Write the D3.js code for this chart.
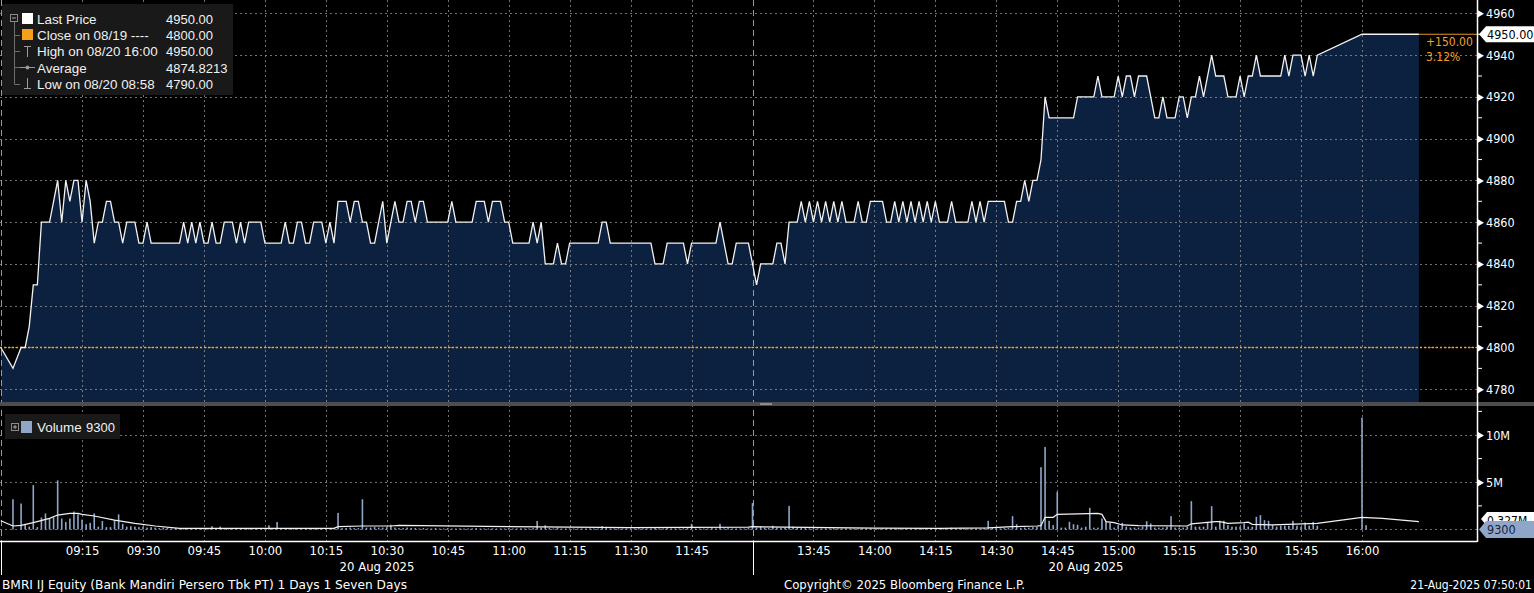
<!DOCTYPE html>
<html>
<head>
<meta charset="utf-8">
<script src="https://cdn.jsdelivr.net/npm/d3@7"></script>
<style>
  body { margin: 0; background: #000; overflow: hidden; }
  svg { display: block; }
  text { font-family: "DejaVu Sans Condensed", "DejaVu Sans", sans-serif; font-stretch: condensed; }
  .wide { font-family: "DejaVu Sans", sans-serif; font-stretch: normal; }
  .leg { font-family: "Liberation Sans", Arial, sans-serif; font-stretch: normal; }
</style>
</head>
<body>
<div id="myPlot"></div>
<script>
// price per minute, null = no print
const amStart = "08:55";
const amPrices = [
  4800, null, null, 4790, null,
  4800, 4800, 4810, 4830, 4830, 4860, 4860, 4860, 4870, 4880,
  4860, 4880, 4870, 4880, 4880, 4860, 4880, 4870, 4850, 4860,
  4860, 4870, 4870, 4860, 4860, 4850, 4860, 4860, 4860, 4850,
  4850, 4860, 4850, 4850, 4850, 4850, 4850, 4850, 4850, 4850,
  4860, 4850, 4860, 4850, 4860, 4850, 4850, 4860, 4850, 4850,
  4860, 4860, 4860, 4850, 4860, 4850, 4860, 4860, 4860, 4860,
  4850, 4850, 4850, 4850, 4850, 4860, 4850, 4850, 4860, 4860,
  4850, 4850, 4860, 4860, 4860, 4850, 4860, 4850, 4870, 4870,
  4870, 4860, 4870, 4870, 4860, 4860, 4850, 4850, 4860, 4870,
  4850, 4860, 4870, 4860, 4860, 4870, 4870, 4860, 4870, 4870,
  4860, 4860, 4860, 4860, 4860, 4860, 4870, 4860, 4860, 4860,
  4860, 4860, 4870, 4870, 4870, 4860, 4870, 4870, 4870, 4860,
  4860, 4850, 4850, 4850, 4850, 4850, 4860, 4850, 4860, 4840,
  4840, 4840, 4850, 4840, 4840, 4850, 4850, 4850, 4850, 4850,
  4850, 4850, 4850, 4860, 4860, 4850, 4850, 4850, 4850, 4850,
  4850, 4850, 4850, 4850, 4850, 4850, 4840, 4840, 4840, 4850,
  4850, 4850, 4850, 4850, 4840, 4850, 4850, 4850, 4850, 4850,
  4850, 4850, 4860, 4850, 4840, 4840, 4850, 4850, 4850, 4850
];
const pmStart = "13:30";
const pmPrices = [
  4840, 4830, 4840, 4840, 4840, 4840, 4850, 4850, 4840, 4860,
  4860, 4860, 4870, 4860, 4870, 4860, 4870, 4860, 4870, 4860,
  4870, 4860, 4870, 4860, 4860, 4860, 4870, 4860, 4860, 4870,
  4870, 4870, 4870, 4860, 4860, 4870, 4860, 4870, 4860, 4870,
  4860, 4870, 4860, 4870, 4860, 4870, 4860, 4860, 4860, 4870,
  4860, 4860, 4860, 4860, 4870, 4860, 4870, 4860, 4870, 4870,
  4870, 4870, 4870, 4860, 4860, 4870, 4870, 4880, 4870, 4880,
  4880, 4890, 4920, 4910, 4910, 4910, 4910, 4910, 4910, 4910,
  4920, 4920, 4920, 4920, 4920, 4930, 4920, 4920, 4920, 4920,
  4930, 4920, 4930, 4930, 4920, 4930, 4930, 4930, 4920, 4910,
  4910, 4920, 4910, 4910, 4910, 4920, 4920, 4910, 4920, 4920,
  4930, 4920, 4930, 4940, 4930, 4930, 4930, 4920, 4920, 4920,
  4930, 4920, 4930, 4930, 4940, 4930, 4930, 4930, 4930, 4930,
  4930, 4940, 4930, 4940, 4940, 4940, 4930, 4940, 4930, 4940,
  null, null, null, null, null, null, null, null, null, null,
  4950, null, null, null, null, null, null, null, null, null,
  null, null, null, null, 4950
];

// volume per minute, millions of shares
const amVolumes = [
  null, null, null, 3.2, null,
  2.75, 0.55, 0.3, 4.7, 0.25, 1.27, 1.7, 1.16, 1.3, 5.2,
  1.16, 0.8, 1.16, 1.9, 1.6, 1.05, 0.56, 0.7, 1.7, 0.3,
  0.9, 0.25, 0.25, 1.0, 1.6, 0.6, 0.3, 0.35, 0.3, 0.25,
  0.3, 0.2, 0.25, 0.2, 0.15, 0.2, 0.15, 0.1, 0.15, 0.1,
  0.1, 0.08, 0.1, 0.1, 0.08, 0.1, 0.1, 0.35, 0.1, 0.3,
  0.1, 0.15, 0.1, 0.1, 0.15, 0.1, 0.1, 0.1, 0.15, 0.1,
  0.1, 0.45, 0.1, 0.8, 0.1, 0.1, 0.12, 0.1, 0.1, 0.12,
  0.1, 0.1, 0.12, 0.1, 0.1, 0.1, 0.12, 0.15, 1.76, 0.15,
  0.15, 0.2, 0.15, 0.15, 3.2, 0.2, 0.2, 0.25, 0.2, 0.2,
  0.25, 0.5, 0.2, 0.15, 0.15, 0.2, 0.15, 0.15, 0.1, 0.15,
  0.1, 0.1, 0.15, 0.1, 0.1, 0.15, 0.1, 0.1, 0.12, 0.1,
  0.1, 0.12, 0.15, 0.1, 0.1, 0.1, 0.12, 0.1, 0.1, 0.1,
  0.15, 0.1, 0.1, 0.12, 0.1, 0.1, 0.15, 0.9, 0.2, 0.45,
  0.15, 0.1, 0.2, 0.1, 0.1, 0.12, 0.1, 0.1, 0.1, 0.1,
  0.12, 0.1, 0.1, 0.35, 0.15, 0.1, 0.1, 0.1, 0.1, 0.1,
  0.1, 0.1, 0.12, 0.1, 0.1, 0.1, 0.15, 0.1, 0.1, 0.15,
  0.1, 0.1, 0.1, 0.12, 0.15, 0.6, 0.1, 0.1, 0.1, 0.1,
  0.15, 0.1, 0.6, 0.12, 0.15, 0.1, 0.1, 0.1, 0.1, 0.15
];
const pmVolumes = [
  2.8, 0.2, 0.3, 0.2, 0.15, 0.4, 0.2, 0.15, 0.2, 2.5,
  0.3, 0.2, 0.15, 0.15, 0.12, 0.15, 0.12, 0.1, 0.12, 0.1,
  0.12, 0.1, 0.1, 0.12, 0.1, 0.1, 0.1, 0.12, 0.1, 0.1,
  0.1, 0.1, 0.12, 0.1, 0.1, 0.1, 0.1, 0.1, 0.12, 0.1,
  0.1, 0.1, 0.12, 0.1, 0.1, 0.1, 0.1, 0.12, 0.1, 0.2,
  0.1, 0.1, 0.12, 0.1, 0.1, 0.12, 0.1, 0.15, 0.92, 0.15,
  0.15, 0.12, 0.15, 0.15, 1.41, 0.56, 0.15, 0.2, 0.2, 0.25,
  0.3, 6.6, 8.74, 0.92, 0.46, 3.98, 0.2, 0.2, 0.81, 0.56,
  0.5, 0.2, 0.3, 2.29, 0.2, 0.2, 1.16, 0.81, 0.7, 0.2,
  0.46, 0.7, 0.3, 0.2, 0.2, 0.2, 0.3, 0.88, 0.63, 0.2,
  0.2, 0.2, 0.3, 1.41, 0.2, 0.2, 0.2, 0.3, 3.0, 0.3,
  0.3, 0.3, 0.81, 2.47, 0.3, 0.92, 0.92, 0.46, 0.3, 0.3,
  0.3, 0.63, 0.3, 0.3, 1.34, 1.52, 0.99, 0.92, 0.46, 0.3,
  0.4, 0.4, 0.4, 0.92, 0.4, 0.3, 0.74, 0.4, 0.81, 0.4,
  null, null, null, null, null, null, null, null, null, null,
  11.84, 0.46, null, null, null, null, null, null, null, null,
  null, null, null, null, null
];

// volume moving average
const maTimes = ["08:55", "08:58", "09:00", "09:03", "09:07", "09:09", "09:12", "09:14", "09:15", "09:18",
  "09:23", "09:28", "09:33", "09:39", "10:17", "10:18", "10:24", "10:31", "10:33", "11:00", "11:30", "11:59",
  "13:30", "14:00", "14:16", "14:28", "14:34", "14:40", "14:41", "14:42", "14:44", "14:45", "14:55", "14:56",
  "14:57", "14:59", "15:01", "15:05", "15:17", "15:18", "15:24", "15:25", "15:27", "15:31", "15:32", "15:33",
  "15:38", "15:49", "16:00", "16:05", "16:14"];
const maValues = [0.93, 0.37, 0.44, 0.72, 1.18, 1.53, 1.71, 1.71, 1.6, 1.43,
  1.0, 0.65, 0.37, 0.12, 0.12, 0.3, 0.37, 0.37, 0.44, 0.3, 0.2, 0.25,
  0.3, 0.15, 0.12, 0.17, 0.3, 0.37, 0.4, 1.29, 1.29, 1.6, 1.71, 1.6,
  0.83, 0.72, 0.48, 0.41, 0.37, 0.6, 0.83, 0.83, 0.65, 0.72, 0.78, 0.55,
  0.48, 0.65, 1.29, 1.18, 0.83];

const priceTicks = [4780, 4800, 4820, 4840, 4860, 4880, 4900, 4920, 4940, 4960];
const priceMinor = [4790, 4810, 4830, 4850, 4870, 4890, 4910, 4930, 4950];
const volTicks = [5, 10];
const volTickLabels = ["5M", "10M"];
const volMinor = [2.5, 7.5, 12.5];
const timeTicks = ["09:15", "09:30", "09:45", "10:00", "10:15", "10:30", "10:45", "11:00", "11:15", "11:30", "11:45",
  "13:45", "14:00", "14:15", "14:30", "14:45", "15:00", "15:15", "15:30", "15:45", "16:00"];
const sessionStarts = ["08:55", "13:30"];
const prevClose = 4800;
const lastPrice = 4950;
const lastVolume = 0.0093;

const legendRows = ["Last Price", "Close on 08/19 ----", "High on 08/20 16:00", "Average", "Low on 08/20 08:58"];
const legendValues = ["4950.00", "4800.00", "4950.00", "4874.8213", "4790.00"];

window.onload = () => {
  const W = 1534, H = 593;
  const axisX = 1477;
  const priceBottom = 402;
  const volBottom = 541;

  const toMin = s => { const p = s.split(":"); return +p[0] * 60 + +p[1]; };
  // squeeze out the lunch break, 13:30 sits where 12:00 would be
  const trade = m => m >= 810 ? m - 90 : m;
  const series = (start, arr) => arr.map((v, i) => ({ t: trade(toMin(start) + i), v: v })).filter(d => d.v != null);

  const prices = series(amStart, amPrices).concat(series(pmStart, pmPrices));
  const vols = series(amStart, amVolumes).concat(series(pmStart, pmVolumes));
  const ma = maTimes.map((s, i) => ({ t: trade(toMin(s)), v: maValues[i] }));

  const svg = d3.select("#myPlot").append("svg").attr("width", W).attr("height", H);
  svg.append("rect").attr("width", W).attr("height", H).attr("fill", "#000");

  const x = d3.scaleLinear().domain([535.3, 898.3]).range([2, axisX]);
  const y = d3.scaleLinear().domain([4773.9, 4966.4]).range([priceBottom, 0]);
  const yv = d3.scaleLinear().domain([0, 10]).range([529.5, 435]);

  // Price area
  svg.append("path").datum(prices)
    .attr("d", d3.area().x(d => x(d.t)).y0(priceBottom).y1(d => y(d.v)))
    .attr("fill", "#0c2140");

  // Grid
  const grid = svg.append("g").attr("stroke", "#8f8f8f").attr("stroke-opacity", 0.8)
    .attr("stroke-dasharray", "2,3").attr("stroke-width", 1);
  grid.selectAll(".hp").data(priceTicks).enter().append("line")
    .attr("x1", 0).attr("x2", axisX).attr("y1", d => Math.round(y(d)) + 0.5).attr("y2", d => Math.round(y(d)) + 0.5);
  grid.selectAll(".hv").data(volTicks).enter().append("line")
    .attr("x1", 0).attr("x2", axisX).attr("y1", d => Math.round(yv(d)) + 0.5).attr("y2", d => Math.round(yv(d)) + 0.5);
  grid.append("line").attr("x1", 0).attr("x2", axisX)
    .attr("y1", Math.round(yv(lastVolume)) + 0.5).attr("y2", Math.round(yv(lastVolume)) + 0.5);
  grid.selectAll(".vt").data(timeTicks).enter().append("line")
    .attr("x1", d => Math.round(x(trade(toMin(d)))) + 0.5).attr("x2", d => Math.round(x(trade(toMin(d)))) + 0.5)
    .attr("y1", 0).attr("y2", volBottom);
  svg.append("g").selectAll("line").data(sessionStarts).enter().append("line")
    .attr("x1", d => Math.round(x(trade(toMin(d)))) + 0.5).attr("x2", d => Math.round(x(trade(toMin(d)))) + 0.5)
    .attr("y1", 0).attr("y2", volBottom)
    .attr("stroke", "#9a9a9a").attr("stroke-dasharray", "6,4");

  // Previous close
  svg.append("line").attr("x1", 0).attr("x2", axisX).attr("y1", y(prevClose)).attr("y2", y(prevClose))
    .attr("stroke", "#f7a11a").attr("stroke-width", 1.6).attr("stroke-dasharray", "2,2");

  // Price line
  svg.append("path").datum(prices)
    .attr("d", d3.line().x(d => x(d.t)).y(d => y(d.v)))
    .attr("fill", "none").attr("stroke", "#f2f2f2").attr("stroke-width", 1.3);
  const last = prices[prices.length - 1];
  svg.append("line").attr("x1", x(last.t)).attr("x2", axisX).attr("y1", y(lastPrice)).attr("y2", y(lastPrice))
    .attr("stroke", "#e8962a").attr("stroke-width", 1);
  svg.append("text").attr("x", 1426).attr("y", 46).attr("fill", "#f0a030").style("font-size", "12px").text("+150.00");
  svg.append("text").attr("x", 1426).attr("y", 61).attr("fill", "#f0a030").style("font-size", "12px").text("3.12%");

  // Panel separator
  svg.append("rect").attr("x", 0).attr("y", priceBottom).attr("width", W).attr("height", 4).attr("fill", "#4d4d4d");
  svg.append("rect").attr("x", 760).attr("y", 403).attr("width", 12).attr("height", 2).attr("fill", "#8a8a8a");

  // Volume bars
  svg.append("g").selectAll("rect").data(vols).enter().append("rect")
    .attr("x", d => x(d.t) - 0.8).attr("width", 1.6)
    .attr("y", d => Math.min(yv(d.v), yv(0) - 1))
    .attr("height", d => Math.max(yv(0) - yv(d.v), 1))
    .attr("fill", "#8ea6c9");

  // Volume average
  svg.append("path").datum(ma)
    .attr("d", d3.line().x(d => x(d.t)).y(d => yv(d.v)))
    .attr("fill", "none").attr("stroke", "#f2f2f2").attr("stroke-width", 1.2);

  // Right axis
  svg.append("line").attr("x1", axisX + 0.5).attr("x2", axisX + 0.5).attr("y1", 0).attr("y2", volBottom + 1)
    .attr("stroke", "#fff").attr("stroke-width", 1.5);

  const pAxis = svg.append("g").attr("transform", "translate(" + axisX + ",0)")
    .call(d3.axisRight(y).tickValues(priceTicks).tickSize(0).tickPadding(9).tickFormat(d3.format("d")));
  const vAxis = svg.append("g").attr("transform", "translate(" + axisX + ",0)")
    .call(d3.axisRight(yv).tickValues(volTicks).tickSize(0).tickPadding(9).tickFormat((d, i) => volTickLabels[i]));
  [pAxis, vAxis].forEach(a => {
    a.select(".domain").remove();
    a.selectAll(".tick").append("path").attr("d", "M1,-3.5L7,0L1,3.5Z").attr("fill", "#fff");
    a.selectAll("text").attr("fill", "#fff").style("font-size", "12.5px").style("font-family", null);
  });
  svg.append("g").selectAll("line").data(priceMinor.map(y).concat(volMinor.map(yv))).enter().append("line")
    .attr("x1", axisX).attr("x2", axisX + 5).attr("y1", d => d).attr("y2", d => d).attr("stroke", "#fff");

  // Last price tag
  const ty = y(lastPrice);
  svg.append("path").attr("d", "M" + (axisX + 2) + "," + ty + "L" + (axisX + 9) + "," + (ty - 8) + "L" + W + "," + (ty - 8) +
    "L" + W + "," + (ty + 8) + "L" + (axisX + 9) + "," + (ty + 8) + "Z").attr("fill", "#fff");
  svg.append("text").attr("x", axisX + 10).attr("y", ty + 4.5).attr("fill", "#000").style("font-size", "12.5px").text("4950.00");

  // Volume tags (average tag mostly hidden behind the last volume tag)
  svg.append("path").attr("d", "M" + (axisX + 4) + ",519L" + (axisX + 10) + ",512L" + W + ",512L" + W + ",526L" + (axisX + 10) + ",526Z")
    .attr("fill", "#fff");
  svg.append("text").attr("x", axisX + 10).attr("y", 525).attr("fill", "#000").style("font-size", "12px").text("0.327M");
  const vy = yv(lastVolume);
  svg.append("path").attr("d", "M" + (axisX + 2) + "," + vy + "L" + (axisX + 9) + "," + (vy - 8.5) + "L" + W + "," + (vy - 8.5) +
    "L" + W + "," + (vy + 8.5) + "L" + (axisX + 9) + "," + (vy + 8.5) + "Z").attr("fill", "#8fa6c8");
  svg.append("text").attr("x", axisX + 10).attr("y", vy + 4.5).attr("fill", "#15233a").style("font-size", "12.5px").text("9300");

  // X Axis
  svg.append("line").attr("x1", 0).attr("x2", axisX).attr("y1", volBottom + 0.5).attr("y2", volBottom + 0.5)
    .attr("stroke", "#fff").attr("stroke-width", 1.5);
  const xAxis = svg.append("g").attr("transform", "translate(0," + volBottom + ")")
    .call(d3.axisBottom(x).tickValues(timeTicks.map(s => trade(toMin(s)))).tickFormat((d, i) => timeTicks[i]).tickSize(0).tickPadding(5));
  xAxis.select(".domain").remove();
  xAxis.selectAll("text").attr("fill", "#fff").style("font-size", "13px").style("font-family", null);
  svg.append("g").selectAll("line").data(sessionStarts).enter().append("line")
    .attr("x1", d => Math.round(x(trade(toMin(d)))) + 0.5).attr("x2", d => Math.round(x(trade(toMin(d)))) + 0.5)
    .attr("y1", volBottom).attr("y2", 575).attr("stroke", "#fff");
  svg.append("text").attr("x", 377).attr("y", 571).attr("text-anchor", "middle").attr("fill", "#fff").style("font-size", "13px").text("20 Aug 2025");
  svg.append("text").attr("x", 1086).attr("y", 571).attr("text-anchor", "middle").attr("fill", "#fff").style("font-size", "13px").text("20 Aug 2025");

  // Footer
  svg.append("text").attr("class", "wide").attr("x", 2).attr("y", 589).attr("fill", "#fff").style("font-size", "12.2px")
    .text("BMRI IJ Equity (Bank Mandiri Persero Tbk PT) 1 Days 1 Seven Days");
  svg.append("text").attr("class", "wide").attr("x", 784).attr("y", 589).attr("fill", "#fff").style("font-size", "11.7px")
    .text("Copyright\u00a9 2025 Bloomberg Finance L.P.");
  svg.append("text").attr("x", 1532).attr("y", 589).attr("text-anchor", "end").attr("fill", "#fff").style("font-size", "12px")
    .text("21-Aug-2025 07:50:01");

  // Price legend
  const leg = svg.append("g");
  leg.append("rect").attr("x", 2).attr("y", 4).attr("width", 231).attr("height", 91).attr("fill", "#191919");
  leg.append("rect").attr("x", 10.5).attr("y", 14.5).attr("width", 7).attr("height", 7).attr("fill", "none").attr("stroke", "#8a8a8a");
  leg.append("line").attr("x1", 12).attr("x2", 16).attr("y1", 18).attr("y2", 18).attr("stroke", "#aaa");
  leg.append("path").attr("d", "M14.5,22V84.5H20M14.5,35.5H20M14.5,51.5H20M14.5,67.5H20")
    .attr("fill", "none").attr("stroke", "#6e6e6e");
  leg.append("rect").attr("x", 22).attr("y", 13).attr("width", 11).attr("height", 11).attr("fill", "#fff");
  leg.append("rect").attr("x", 22).attr("y", 29).attr("width", 11).attr("height", 11).attr("fill", "#f5a01a");
  leg.append("path").attr("d", "M24,46.5H31M27.5,46.5V57").attr("stroke", "#9a9a9a").attr("fill", "none");
  leg.append("path").attr("d", "M20,67.5H35").attr("stroke", "#9a9a9a");
  leg.append("circle").attr("cx", 27.5).attr("cy", 67.5).attr("r", 2).attr("fill", "#9a9a9a");
  leg.append("path").attr("d", "M27.5,78V88.5M24,88.5H31").attr("stroke", "#9a9a9a").attr("fill", "none");
  leg.selectAll(".ln").data(legendRows).enter().append("text").attr("class", "leg")
    .attr("x", 37).attr("y", (d, i) => 24 + i * 16.2).attr("fill", "#f0f0f0").style("font-size", "13.4px").text(d => d);
  leg.selectAll(".lv").data(legendValues).enter().append("text").attr("class", "leg")
    .attr("x", 166).attr("y", (d, i) => 24 + i * 16.2).attr("fill", "#f0f0f0").style("font-size", "13px").text(d => d);

  // Volume legend
  const vleg = svg.append("g");
  vleg.append("rect").attr("x", 5).attr("y", 414).attr("width", 115).attr("height", 25).attr("fill", "#191919");
  vleg.append("rect").attr("x", 11.5).attr("y", 423.5).attr("width", 7).attr("height", 7).attr("fill", "none").attr("stroke", "#8a8a8a");
  vleg.append("path").attr("d", "M13,427H17M15,425V429").attr("stroke", "#aaa");
  vleg.append("rect").attr("x", 21).attr("y", 421).attr("width", 11).attr("height", 12).attr("fill", "#8fa6c8");
  vleg.append("text").attr("class", "leg").attr("x", 37).attr("y", 432).attr("fill", "#f0f0f0").style("font-size", "13.4px").text("Volume");
  vleg.append("text").attr("class", "leg").attr("x", 86).attr("y", 432).attr("fill", "#f0f0f0").style("font-size", "13px").text("9300");
};
</script>
</body>
</html>
